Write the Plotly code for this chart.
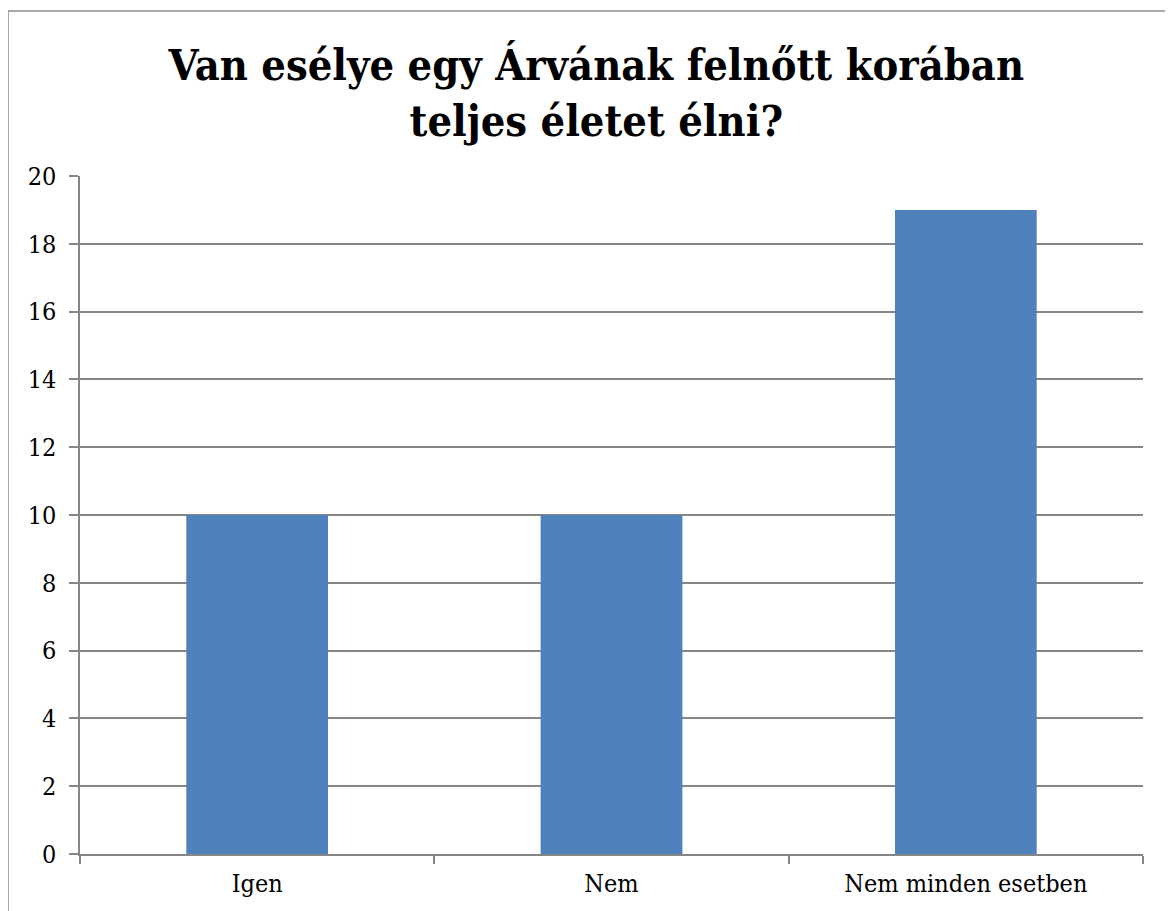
import plotly.graph_objects as go

categories = ["Igen", "Nem", "Nem minden esetben"]
values = [10, 10, 19]
y_ticks = [0, 2, 4, 6, 8, 10, 12, 14, 16, 18, 20]
title_text = "Van esélye egy Árvának felnőtt korában<br>teljes életet élni?"

OFF = 8  # page body margin
W, H = 1173 - OFF, 911 - OFF
L, R, T, B = 80 - OFF, 30, 176 - OFF, 57
pw, ph = W - L - R, H - T - B
FONT = "DejaVu Serif Condensed, DejaVu Serif, Liberation Serif, serif"

fig = go.Figure(go.Bar(x=categories, y=values, marker=dict(color="#4F81BD", line=dict(width=0))))

fig.update_layout(
    width=W, height=H,
    margin=dict(l=L, r=R, t=T, b=B, pad=0, autoexpand=False),
    paper_bgcolor="white", plot_bgcolor="white",
    bargap=0.6,
    showlegend=False,
    font=dict(family=FONT, color="black", size=25),
    title=dict(text="<b>" + title_text + "</b>", x=0.505, xanchor="center",
               yref="container", y=1 - 72 / H, yanchor="top",
               font=dict(family=FONT, size=43, color="black")),
    xaxis=dict(showline=True, linecolor="#868686", linewidth=1.5, ticks="outside", tickson="boundaries",
               ticklen=8, tickcolor="#868686", tickwidth=1.5, showgrid=False,
               tickfont=dict(size=25, color="black"), ticklabelstandoff=6),
    yaxis=dict(range=[0, 20], tickvals=y_ticks, showline=True, linecolor="#868686", linewidth=1.5,
               ticks="outside", ticklen=9, tickcolor="#868686", tickwidth=1.5,
               showgrid=True, gridcolor="#868686", gridwidth=1.5, zeroline=False,
               tickfont=dict(size=25, color="black"), ticklabelstandoff=8),
    shapes=[dict(type="rect", xref="paper", yref="paper",
                 x0=(8 - 80) / pw, x1=(1172 - 80) / pw,
                 y0=(854 - 930) / ph, y1=(854 - 11) / ph,
                 line=dict(color="#8c8c8c", width=1.5), fillcolor="rgba(0,0,0,0)", layer="below")],
)

fig.write_html("out.html")
